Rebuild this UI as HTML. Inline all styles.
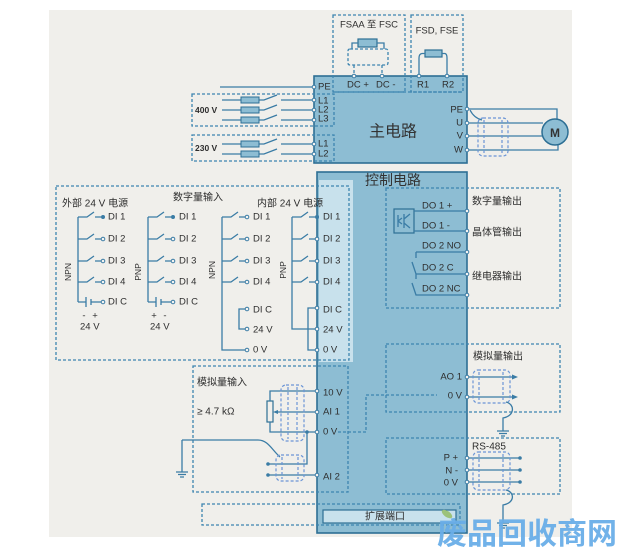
<!DOCTYPE html>
<html><head><meta charset="utf-8"><style>
html,body{margin:0;padding:0;background:#fff;}
svg{display:block;font-family:"Liberation Sans","Noto Sans CJK SC",sans-serif;}
.ln{stroke:#3a7ca5;stroke-width:1.3;fill:none;}
.ds{stroke:#3d85b0;stroke-width:1.3;fill:none;stroke-dasharray:3 2;}
.sh{stroke:#6b95d6;stroke-width:1.2;fill:none;stroke-dasharray:3 2;}
.t{font-size:9.5px;fill:#2e2e2e;dominant-baseline:central;}
.c{font-size:10px;fill:#2e2e2e;dominant-baseline:central;}
.tc{fill:#f4f4f2;stroke:#3a7ca5;stroke-width:1;}
.dot{fill:#3a7ca5;}
</style></head><body>
<svg width="619" height="547" viewBox="0 0 619 547" xmlns="http://www.w3.org/2000/svg">
<rect x="0" y="0" width="619" height="547" fill="#fff"/>
<rect x="49" y="10" width="523" height="527" fill="#f0efeb"/>

<!-- ===== Main circuit ===== -->
<rect x="314" y="76" width="153" height="87" fill="#8dbdd3" stroke="#2d6f94" stroke-width="1.6"/>
<rect x="317" y="172" width="150" height="361" fill="#8dbdd3" stroke="#2d6f94" stroke-width="1.6"/>
<rect x="319" y="180" width="34" height="182" fill="#c8e1ec"/>

<!-- top dashed boxes -->
<rect class="ds" x="333" y="15" width="72" height="77"/>
<rect class="ds" x="411" y="15" width="52" height="77"/>
<path class="ds" d="M333,92 H463"/>
<text class="c" x="369" y="25" text-anchor="middle" style="font-size:9.5px">FSAA 至 FSC</text>
<text class="c" x="437" y="31" text-anchor="middle" style="font-size:9.5px">FSD, FSE</text>
<rect x="358" y="39" width="19" height="8" fill="#8dbdd3" stroke="#2d6f94" stroke-width="1.2"/>
<path class="ln" d="M358,43 H352 V49 M377,43 H384 V49"/>
<rect class="ds" x="348" y="49" width="40" height="16" rx="2"/>
<path class="ds" d="M354,65 V75 M382,65 V75"/>
<rect x="425" y="50" width="17" height="7" fill="#8dbdd3" stroke="#2d6f94" stroke-width="1.2"/>
<path class="ln" d="M425,53.5 H422 Q419,54 419,58 V75 M442,53.5 H445 Q447,54 447,58 V75"/>
<circle class="tc" cx="354" cy="76" r="1.8"/><circle class="tc" cx="382" cy="76" r="1.8"/>
<circle class="tc" cx="419" cy="76" r="1.8"/><circle class="tc" cx="447" cy="76" r="1.8"/>

<text class="t" x="318" y="87">PE</text>
<text class="t" x="347" y="85">DC +</text>
<text class="t" x="376" y="85">DC -</text>
<text class="t" x="417" y="85">R1</text>
<text class="t" x="442" y="85">R2</text>

<!-- input lines -->
<path class="ln" d="M220,87 H312"/>
<rect class="ds" x="192" y="94" width="142" height="32"/>
<rect class="ds" x="192" y="135" width="142" height="26"/>
<text class="t" x="195" y="110" style="font-weight:bold;font-size:8.5px">400 V</text>
<text class="t" x="195" y="148" style="font-weight:bold;font-size:8.5px">230 V</text>
<g>
<path class="ln" d="M222,100 H241 M259,100 H264 L277,95 M281,100 H312"/>
<rect x="241" y="97" width="18" height="6" fill="#8dbdd3" stroke="#2d6f94"/>
<path class="ln" d="M222,110 H241 M259,110 H264 L277,105 M281,110 H312"/>
<rect x="241" y="107" width="18" height="6" fill="#8dbdd3" stroke="#2d6f94"/>
<path class="ln" d="M222,120 H241 M259,120 H264 L277,115 M281,120 H312"/>
<rect x="241" y="117" width="18" height="6" fill="#8dbdd3" stroke="#2d6f94"/>
<path class="ln" d="M222,144 H241 M259,144 H264 L277,139 M281,144 H312"/>
<rect x="241" y="141" width="18" height="6" fill="#8dbdd3" stroke="#2d6f94"/>
<path class="ln" d="M222,154 H241 M259,154 H264 L277,149 M281,154 H312"/>
<rect x="241" y="151" width="18" height="6" fill="#8dbdd3" stroke="#2d6f94"/>
</g>
<circle class="tc" cx="314" cy="87" r="1.8"/>
<circle class="tc" cx="314" cy="100" r="1.8"/><circle class="tc" cx="314" cy="110" r="1.8"/><circle class="tc" cx="314" cy="120" r="1.8"/>
<circle class="tc" cx="314" cy="144" r="1.8"/><circle class="tc" cx="314" cy="154" r="1.8"/>
<text class="t" x="318" y="101">L1</text>
<text class="t" x="318" y="110">L2</text>
<text class="t" x="318" y="119">L3</text>
<text class="t" x="318" y="144">L1</text>
<text class="t" x="318" y="154">L2</text>

<text x="393" y="132" text-anchor="middle" dominant-baseline="central" style="font-size:16px;fill:#333">主电路</text>

<!-- right output / motor -->
<text class="t" x="463" y="110" text-anchor="end">PE</text>
<text class="t" x="463" y="123" text-anchor="end">U</text>
<text class="t" x="463" y="136" text-anchor="end">V</text>
<text class="t" x="463" y="150" text-anchor="end">W</text>
<path class="ln" d="M469,109 H557 V119 M469,123 H543 M469,136 H542 M469,150 H558 V145"/>
<path class="ln" d="M470,110 Q474,118 482,120"/>
<rect class="sh" x="478" y="118" width="30" height="38" rx="5"/>
<path class="sh" d="M484,120 V154 M502,120 V154"/>
<circle class="tc" cx="467" cy="109" r="1.8"/><circle class="tc" cx="467" cy="123" r="1.8"/>
<circle class="tc" cx="467" cy="136" r="1.8"/><circle class="tc" cx="467" cy="150" r="1.8"/>
<circle cx="555" cy="132" r="13" fill="#8dbdd3" stroke="#2d6f94" stroke-width="1.5"/>
<text x="555" y="133" text-anchor="middle" dominant-baseline="central" style="font-size:12px;font-weight:bold;fill:#333">M</text>

<!-- ===== Control circuit ===== -->
<text x="393" y="180" text-anchor="middle" dominant-baseline="central" style="font-size:14px;fill:#333">控制电路</text>

<!-- digital inputs -->
<rect class="ds" x="56" y="186" width="293" height="174"/>
<text class="c" x="62" y="204">外部 24 V 电源</text>
<text class="c" x="173" y="198">数字量输入</text>
<text class="c" x="257" y="204">内部 24 V 电源</text>

<!-- group 1 -->
<path class="ln" d="M78,217 V302
M78,217H87L94,212M95,217H101
M78,239H87L94,234M95,239H101
M78,261H87L94,256M95,261H101
M78,282H87L94,277M95,282H101
M78,302H86M86,297V307M91,299V305M91,302H101"/>
<circle class="dot" cx="103" cy="217" r="2"/>
<circle class="tc" cx="103" cy="239" r="1.8"/><circle class="tc" cx="103" cy="261" r="1.8"/>
<circle class="tc" cx="103" cy="282" r="1.8"/><circle class="tc" cx="103" cy="302" r="1.8"/>
<text class="t" x="108" y="217">DI 1</text><text class="t" x="108" y="239">DI 2</text>
<text class="t" x="108" y="261">DI 3</text><text class="t" x="108" y="282">DI 4</text>
<text class="t" x="108" y="302">DI C</text>
<text class="t" x="84" y="316" text-anchor="middle">-</text><text class="t" x="95" y="316" text-anchor="middle">+</text>
<text class="t" x="80" y="327">24 V</text>
<text class="t" x="0" y="0" text-anchor="middle" transform="translate(68,272) rotate(-90)" style="font-size:8.5px">NPN</text>

<!-- group 2 -->
<path class="ln" d="M148,217 V302
M148,217H157L164,212M165,217H171
M148,239H157L164,234M165,239H171
M148,261H157L164,256M165,261H171
M148,282H157L164,277M165,282H171
M148,302H156M156,297V307M161,299V305M161,302H171"/>
<circle class="dot" cx="173" cy="217" r="2"/>
<circle class="tc" cx="173" cy="239" r="1.8"/><circle class="tc" cx="173" cy="261" r="1.8"/>
<circle class="tc" cx="173" cy="282" r="1.8"/><circle class="tc" cx="173" cy="302" r="1.8"/>
<text class="t" x="179" y="217">DI 1</text><text class="t" x="179" y="239">DI 2</text>
<text class="t" x="179" y="261">DI 3</text><text class="t" x="179" y="282">DI 4</text>
<text class="t" x="179" y="302">DI C</text>
<text class="t" x="154" y="316" text-anchor="middle">+</text><text class="t" x="165" y="316" text-anchor="middle">-</text>
<text class="t" x="150" y="327">24 V</text>
<text class="t" x="0" y="0" text-anchor="middle" transform="translate(138,272) rotate(-90)" style="font-size:8.5px">PNP</text>

<!-- group 3 -->
<path class="ln" d="M222,217 V350 H245
M222,217H231L238,212M239,217H245
M222,239H231L238,234M239,239H245
M222,261H231L238,256M239,261H245
M222,282H231L238,277M239,282H245
M245,309H239V329H245"/>
<circle class="tc" cx="247" cy="217" r="1.8"/><circle class="tc" cx="247" cy="239" r="1.8"/>
<circle class="tc" cx="247" cy="261" r="1.8"/><circle class="tc" cx="247" cy="282" r="1.8"/>
<circle class="tc" cx="247" cy="309" r="1.8"/><circle class="tc" cx="247" cy="329" r="1.8"/>
<circle class="tc" cx="247" cy="350" r="1.8"/>
<text class="t" x="253" y="217">DI 1</text><text class="t" x="253" y="239">DI 2</text>
<text class="t" x="253" y="261">DI 3</text><text class="t" x="253" y="282">DI 4</text>
<text class="t" x="253" y="310">DI C</text><text class="t" x="253" y="330">24 V</text>
<text class="t" x="253" y="350">0 V</text>
<text class="t" x="0" y="0" text-anchor="middle" transform="translate(212,270) rotate(-90)" style="font-size:8.5px">NPN</text>

<!-- group 4 -->
<path class="ln" d="M292,217 V329 H315
M292,217H301L308,212M309,217H315
M292,239H301L308,234M309,239H315
M292,261H301L308,256M309,261H315
M292,282H301L308,277M309,282H315
M315,308H308V350H315"/>
<circle class="dot" cx="317" cy="217" r="2"/>
<circle class="tc" cx="317" cy="239" r="1.8"/><circle class="tc" cx="317" cy="261" r="1.8"/>
<circle class="tc" cx="317" cy="282" r="1.8"/><circle class="tc" cx="317" cy="308" r="1.8"/>
<circle class="tc" cx="317" cy="329" r="1.8"/><circle class="tc" cx="317" cy="350" r="1.8"/>
<text class="t" x="323" y="217">DI 1</text><text class="t" x="323" y="239">DI 2</text>
<text class="t" x="323" y="261">DI 3</text><text class="t" x="323" y="282">DI 4</text>
<text class="t" x="323" y="310">DI C</text><text class="t" x="323" y="330">24 V</text>
<text class="t" x="323" y="350">0 V</text>
<text class="t" x="0" y="0" text-anchor="middle" transform="translate(283,270) rotate(-90)" style="font-size:8.5px">PNP</text>

<!-- digital outputs -->
<rect class="ds" x="386" y="188" width="174" height="120"/>
<text class="c" x="472" y="202">数字量输出</text>
<text class="c" x="472" y="233">晶体管输出</text>
<text class="c" x="472" y="277">继电器输出</text>
<rect x="394" y="209" width="20" height="24" fill="none" stroke="#2d6f94" stroke-width="1.2"/>
<path class="ln" d="M398,215 V227 M398,221 L402,218 M398,221 L402,224 M404,214 V228 M404,219 L410,214 M404,223 L410,228"/>
<path class="ln" d="M414,211 H465 M414,231 H465"/>
<path class="ln" d="M416,252 H465 M416,252 V258 M412,262 L416,274 H465 M416,274 V279 M412,283 L416,295 H465"/>
<circle class="tc" cx="467" cy="211" r="1.8"/><circle class="tc" cx="467" cy="231" r="1.8"/>
<circle class="tc" cx="467" cy="252" r="1.8"/><circle class="tc" cx="467" cy="274" r="1.8"/>
<circle class="tc" cx="467" cy="295" r="1.8"/>
<text class="t" x="422" y="206">DO 1 +</text>
<text class="t" x="422" y="226">DO 1 -</text>
<text class="t" x="422" y="246">DO 2 NO</text>
<text class="t" x="422" y="268">DO 2 C</text>
<text class="t" x="422" y="289">DO 2 NC</text>

<!-- analog inputs -->
<rect class="ds" x="193" y="366" width="155" height="126"/>
<text class="c" x="197" y="383">模拟量输入</text>
<text class="c" x="197" y="412">≥ 4.7 kΩ</text>
<rect x="267" y="401" width="6" height="21" fill="#f0efeb" stroke="#2d6f94" stroke-width="1.2"/>
<path class="ln" d="M270,401 V391 H315 M270,422 V432 H315 M315,412 H276"/>
<path d="M273,412 L278,410 L278,414 Z" fill="#3a7ca5"/>
<rect class="sh" x="281" y="385" width="23" height="56" rx="5"/>
<path class="sh" d="M288,387 V439 M297,387 V439"/>
<path class="ln" d="M182,440 V472 M176,472 H188 M178,474.5 H186 M180,477 H184"/>
<path class="ln" d="M182,440 H258 C268,440 272,450 280,457"/>
<path class="ln" d="M268,464 H307 V432 M268,475 H315"/>
<circle class="dot" cx="268" cy="464" r="1.8"/><circle class="dot" cx="268" cy="475" r="1.8"/>
<circle class="dot" cx="307" cy="432" r="1.8"/>
<rect class="sh" x="276" y="455" width="28" height="26" rx="5"/>
<path class="sh" d="M282,457 V479 M298,457 V479"/>
<circle class="tc" cx="317" cy="391" r="1.8"/><circle class="tc" cx="317" cy="412" r="1.8"/>
<circle class="tc" cx="317" cy="432" r="1.8"/><circle class="tc" cx="317" cy="475" r="1.8"/>
<text class="t" x="323" y="393">10 V</text>
<text class="t" x="323" y="412">AI 1</text>
<text class="t" x="323" y="432">0 V</text>
<text class="t" x="323" y="477">AI 2</text>
<path class="ds" d="M338,432 H366 V395 H437"/>

<!-- analog outputs -->
<rect class="ds" x="386" y="344" width="174" height="68"/>
<text class="c" x="473" y="357">模拟量输出</text>
<text class="t" x="462" y="377" text-anchor="end">AO 1</text>
<text class="t" x="462" y="396" text-anchor="end">0 V</text>
<path class="ln" d="M469,377 H513 M469,397 H513"/>
<path d="M512,374.5 L518,377 L512,379.5 Z M512,394.5 L518,397 L512,399.5 Z" fill="#3a7ca5"/>
<circle class="tc" cx="467" cy="377" r="1.8"/><circle class="tc" cx="467" cy="397" r="1.8"/>
<rect class="sh" x="473" y="370" width="37" height="33" rx="5"/>
<path class="sh" d="M479,372 V401 M503,372 V401"/>
<path class="ln" d="M506,402 C515,404 515,416 503,418 V431 M497,431 H509 M499,433.5 H507 M501,436 H505"/>

<!-- RS-485 -->
<rect class="ds" x="386" y="438" width="174" height="56"/>
<text class="c" x="472" y="447">RS-485</text>
<text class="t" x="458" y="458" text-anchor="end">P +</text>
<text class="t" x="458" y="471" text-anchor="end">N -</text>
<text class="t" x="458" y="483" text-anchor="end">0 V</text>
<path class="ln" d="M469,458 H520 M469,470 H520 M469,482 H520"/>
<circle class="dot" cx="520" cy="458" r="1.8"/><circle class="dot" cx="520" cy="470" r="1.8"/><circle class="dot" cx="520" cy="482" r="1.8"/>
<circle class="tc" cx="467" cy="458" r="1.8"/><circle class="tc" cx="467" cy="470" r="1.8"/><circle class="tc" cx="467" cy="482" r="1.8"/>
<rect class="sh" x="473" y="452" width="37" height="38" rx="5"/>
<path class="sh" d="M479,454 V488 M503,454 V488"/>
<path class="ln" d="M506,490 C515,492 515,503 503,505 V523 M497,523 H509 M499,525.5 H507 M501,528 H505"/>

<!-- expansion port -->
<rect class="ds" x="202" y="504" width="258" height="21"/>
<rect x="323" y="510" width="133" height="13" fill="#c8e1ec" stroke="#2d6f94" stroke-width="1.2"/>
<text class="c" x="365" y="517">扩展端口</text>
<ellipse cx="447" cy="514" rx="6" ry="3" transform="rotate(35 447 514)" fill="#9cc27a"/>

<!-- watermark -->
<text x="437" y="544" style="font-size:30px;font-weight:bold;fill:#6aaee8;opacity:0.95">废品回收商网</text>
</svg>
</body></html>
